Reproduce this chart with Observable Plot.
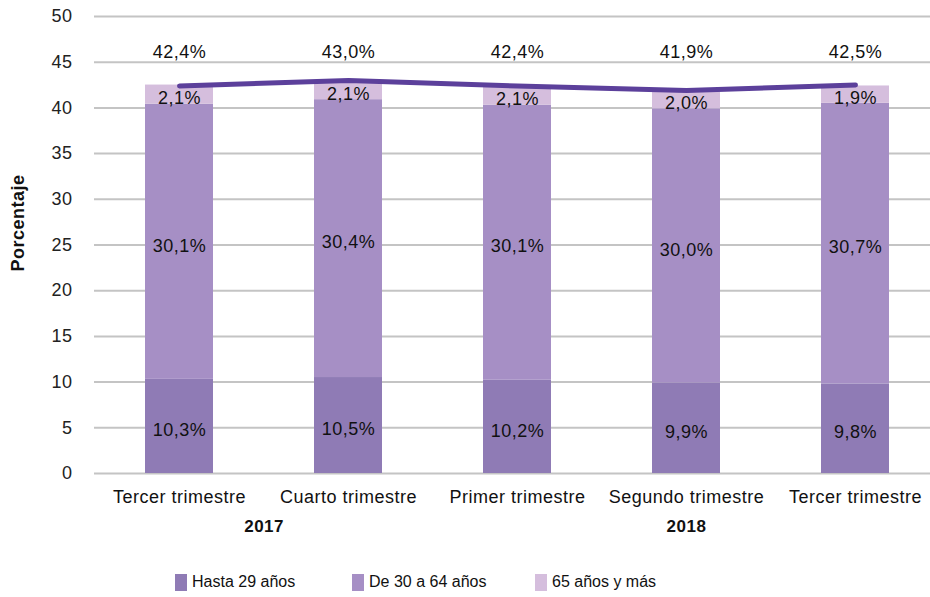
<!DOCTYPE html>
<html>
<head>
<meta charset="utf-8">
<script src="https://cdn.jsdelivr.net/npm/d3@7"></script>
<script src="https://cdn.jsdelivr.net/npm/@observablehq/plot@0.6"></script>
<style>
  body { margin: 0; background: #fff; font-family: "Liberation Sans", Arial, sans-serif; }
  #chart svg text { letter-spacing: 0.5px; }
  #legend { display: flex; height: 37px; align-items: center; position: relative; font-size: 16px; color: #111; }
  .item { position: absolute; display: flex; align-items: center; top: 13px; }
  .sw { width: 12px; height: 17px; margin-right: 5px; }
</style>
</head>
<body>
<div id="chart"></div>
<div id="legend"></div>
<script>
const periods = ["Tercer trimestre", "Cuarto trimestre", "Primer trimestre", "Segundo trimestre", "Tercer trimestre"];
const yearLabels = ["2017", "2018"];
const hasta29 = [10.3, 10.5, 10.2, 9.9, 9.8];
const de30a64 = [30.1, 30.4, 30.1, 30.0, 30.7];
const mas65 = [2.1, 2.1, 2.1, 2.0, 1.9];
const total = [42.4, 43.0, 42.4, 41.9, 42.5];
const seriesNames = ["Hasta 29 años", "De 30 a 64 años", "65 años y más"];
const colors = ["#8f7bb5", "#a68fc5", "#d5bedd"];
const yTicks = [0, 5, 10, 15, 20, 25, 30, 35, 40, 45, 50];

const keys = periods.map((p, i) => "k" + i);
const fmt = v => v.toFixed(1).replace(".", ",") + "%";
const seriesVals = [hasta29, de30a64, mas65];

const rows = [];
keys.forEach((k, i) => {
  let base = 0;
  seriesVals.forEach((arr, s) => {
    const v = arr[i];
    rows.push({key: k, series: seriesNames[s], y1: base, y2: base + v, mid: base + v / 2, label: fmt(v)});
    base += v;
  });
});
const totals = keys.map((k, i) => ({key: k, value: total[i], label: fmt(total[i])}));

const chart = Plot.plot({
  width: 930,
  height: 560,
  marginLeft: 94,
  marginRight: 0,
  marginTop: 16,
  marginBottom: 87,
  style: {fontFamily: "'Liberation Sans', Arial, sans-serif", fontSize: "18px", color: "#111", background: "#fff"},
  x: {domain: keys, range: [94, 940], paddingInner: 0.6, paddingOuter: 0.3, label: null, axis: null},
  y: {domain: [0, 50], ticks: yTicks, label: null, axis: null},
  color: {domain: seriesNames, range: colors},
  marks: [
    Plot.ruleY(yTicks, {stroke: "#c4c4c4", strokeWidth: 2}),
    Plot.axisY(yTicks, {tickSize: 0, tickPadding: 22, fontSize: 18, label: null, fill: "#222"}),
    Plot.text(["Porcentaje"], {frameAnchor: "left", textAnchor: "middle", dx: -76, dy: -22, rotate: -90, fontWeight: "bold", fontSize: 18, fill: "#111"}),
    Plot.barY(rows, {x: "key", y1: "y1", y2: "y2", fill: "series"}),
    Plot.text(rows, {x: "key", y: "mid", dy: 4, text: "label", fontSize: 18, fill: "#111"}),
    Plot.lineY(totals, {x: "key", y: "value", stroke: "#5c409b", strokeWidth: 5, strokeLinecap: "round", strokeLinejoin: "round"}),
    Plot.text(totals, {x: "key", y: () => 46.5, dy: 4, text: "label", fontSize: 18, fill: "#111"}),
    Plot.text(keys, {x: d => d, text: (d, i) => periods[i], frameAnchor: "bottom", lineAnchor: "middle", dy: 24, fontSize: 18, fill: "#111"}),
    Plot.text([keys[0]], {x: d => d, text: () => yearLabels[0], frameAnchor: "bottom", lineAnchor: "middle", dx: 84.6, dy: 53, fontSize: 17, fontWeight: "bold", fill: "#111"}),
    Plot.text([keys[3]], {x: d => d, text: () => yearLabels[1], frameAnchor: "bottom", lineAnchor: "middle", dy: 53, fontSize: 17, fontWeight: "bold", fill: "#111"})
  ]
});
document.getElementById("chart").appendChild(chart);

const legend = document.getElementById("legend");
const lx = [175, 352, 535];
seriesNames.forEach((n, i) => {
  const it = document.createElement("div");
  it.className = "item";
  it.style.left = lx[i] + "px";
  it.innerHTML = `<div class="sw" style="background:${colors[i]}"></div><span>${n}</span>`;
  legend.appendChild(it);
});
</script>
</body>
</html>
